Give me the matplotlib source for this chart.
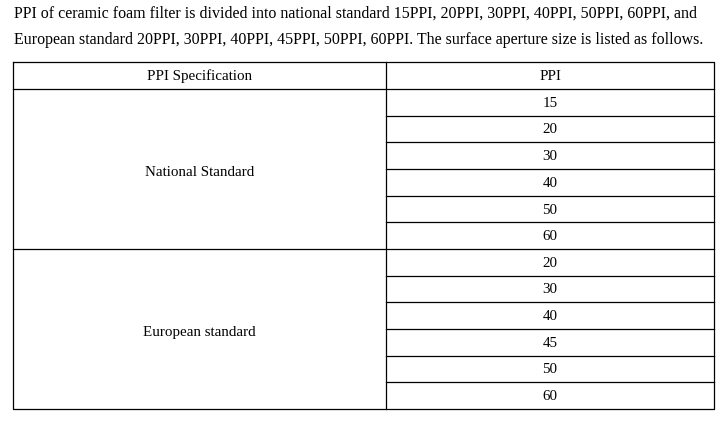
import matplotlib
matplotlib.use("Agg")
import matplotlib.pyplot as plt

intro_lines = [
    "PPI of ceramic foam filter is divided into national standard 15PPI, 20PPI, 30PPI, 40PPI, 50PPI, 60PPI, and",
    "European standard 20PPI, 30PPI, 40PPI, 45PPI, 50PPI, 60PPI. The surface aperture size is listed as follows.",
]
headers = ["PPI Specification", "PPI"]
groups = ["National Standard", "European standard"]
national_ppi = ["15", "20", "30", "40", "50", "60"]
european_ppi = ["20", "30", "40", "45", "50", "60"]

W, H = 723, 427
fig = plt.figure(figsize=(W / 100, H / 100), dpi=100)
ax = fig.add_axes([0, 0, 1, 1])
ax.set_xlim(0, W)
ax.set_ylim(H, 0)
ax.axis("off")
font = dict(family="Liberation Serif", color="black")

ax.text(14, 14, intro_lines[0], fontsize=11.5, va="center", ha="left", **font)
ax.text(14, 40, intro_lines[1], fontsize=11.5, va="center", ha="left", **font)

left, mid, right = 13, 386, 714
top, hdr_bot = 63, 90
rows = national_ppi + european_ppi
rh = (410 - hdr_bot) / len(rows)
bottom = hdr_bot + rh * len(rows)
lw = 0.9
ax.plot([left, right, right, left, left], [top, top, bottom, bottom, top], color="black", lw=lw)
ax.plot([mid, mid], [top, bottom], color="black", lw=lw)
ax.plot([left, right], [hdr_bot, hdr_bot], color="black", lw=lw)
fs = 10.8
ax.text((left + mid) / 2, (top + hdr_bot) / 2, headers[0], fontsize=fs, ha="center", va="center", **font)
ax.text((mid + right) / 2, (top + hdr_bot) / 2, headers[1], fontsize=fs, ha="center", va="center", **font)
for i, v in enumerate(rows):
    y0 = hdr_bot + i * rh
    if i > 0:
        x0 = left if i == len(national_ppi) else mid
        ax.plot([x0, right], [y0, y0], color="black", lw=lw)
    ax.text((mid + right) / 2, y0 + rh / 2, v, fontsize=fs, ha="center", va="center", **font)
for g, (start, n) in zip(groups, [(0, len(national_ppi)), (len(national_ppi), len(european_ppi))]):
    yc = hdr_bot + (start + n / 2) * rh + 3
    ax.text((left + mid) / 2, yc, g, fontsize=fs, ha="center", va="center", **font)

fig.savefig("out.png", dpi=100, facecolor="white")
